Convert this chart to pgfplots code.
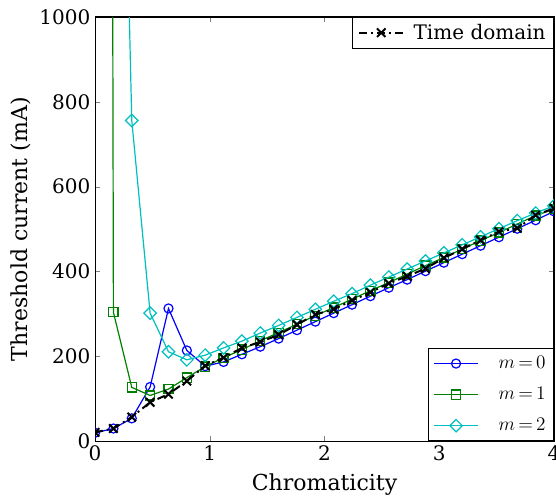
\documentclass[border=0pt]{standalone}
\usepackage{fontspec}
\setmainfont{DejaVu Serif}
\usepackage{pgfplots}
\pgfplotsset{compat=1.18}

\definecolor{mblue}{rgb}{0,0,1}
\definecolor{mgreen}{rgb}{0,0.5,0}
\definecolor{mcyan}{rgb}{0,0.75,0.75}

\pgfplotsset{
  base/.style={
    scale only axis, width=344pt, height=318pt,
    xmin=0, xmax=4, ymin=0, ymax=1000,
    clip marker paths=true,
  },
  legbox/.style={legend style={draw=black, line width=0.6pt, fill=white,
    font=\fontsize{15}{17}\selectfont,
    inner xsep=4pt, inner ysep=4pt, row sep=8.5pt},
    legend cell align=left},
  longleg/.style={legend image code/.code={%
    \draw[mark repeat=2,mark phase=2] plot coordinates {(0cm,0cm) (0.58cm,0cm) (1.16cm,0cm)};}},
}

\begin{document}
\begin{tikzpicture}
\begin{axis}[base, legbox, longleg, name=ax,
  xtick={0,1,2,3,4}, ytick={0,200,400,600,800,1000},
  xticklabel={\pgfmathprintnumber[assume math mode=true,1000 sep={}]{\tick}},
  yticklabel={\pgfmathprintnumber[assume math mode=true,1000 sep={}]{\tick}},
  tick label style={font=\fontsize{15}{17}\selectfont},
  label style={font=\fontsize{16.5}{18}\selectfont},
  tick align=inside, major tick length=4pt,
  axis line style={line width=0.8pt},
  xlabel={Chromaticity}, ylabel={Threshold current (mA)},
  xlabel style={at={(axis description cs:0.5,-0.1156)}, anchor=base},
  ylabel style={at={(axis description cs:-0.161,0.5)}, anchor=center},
  legend style={at={(1,0)}, anchor=south east,
    /tikz/every odd column/.append style={column sep=13pt}},
  every axis plot/.append style={line width=0.9pt},
  ]
\addplot[color=mblue, mark=o, mark size=3.4pt] coordinates {
(0,20) (0.16,30) (0.32,54) (0.48,128) (0.64,313) (0.8,214) (0.96,177) (1.12,187)
(1.28,205) (1.44,223) (1.6,242) (1.76,262) (1.92,282) (2.08,302) (2.24,322) (2.4,342)
(2.56,362) (2.72,381) (2.88,401) (3.04,421) (3.2,441) (3.36,461) (3.52,481) (3.68,501)
(3.84,521) (4.0,542)};
\addlegendentry{$m\,{=}\,0$}
\addplot[color=mgreen, mark=square, mark size=3.4pt] coordinates {
(0,20000) (0.16,304) (0.32,127) (0.48,108) (0.64,123) (0.8,150) (0.96,176) (1.12,197)
(1.28,216) (1.44,237) (1.6,256) (1.76,276) (1.92,296) (2.08,315) (2.24,335) (2.4,355)
(2.56,374) (2.72,394) (2.88,414) (3.04,433) (3.2,453) (3.36,473) (3.52,492) (3.68,512)
(3.84,532) (4.0,547)};
\addlegendentry{$m\,{=}\,1$}
\addplot[color=mcyan, mark=square, mark size=3.3pt, mark options={rotate=45}] coordinates {
(0,15000) (0.16,2600) (0.32,756) (0.48,302) (0.64,211) (0.8,192) (0.96,203) (1.12,220)
(1.28,236) (1.44,255) (1.6,273) (1.76,292) (1.92,311) (2.08,330) (2.24,348) (2.4,368)
(2.56,387) (2.72,406) (2.88,425) (3.04,444) (3.2,463) (3.36,482) (3.52,501) (3.68,520)
(3.84,538) (4.0,555)};
\addlegendentry{$m\,{=}\,2$}
\end{axis}
\begin{axis}[base, hide axis, legbox, longleg,
  legend style={at={(1,1)}, anchor=north east, inner ysep=3pt,
    /tikz/every odd column/.append style={column sep=5pt}}]
\addplot[black, line width=1.5pt, dash pattern=on 6pt off 3pt on 1.5pt off 3pt,
  mark=x, mark size=4.5pt, mark options={solid}] coordinates {
(0,21) (0.16,30) (0.32,57) (0.48,92) (0.64,111) (0.8,142) (0.96,178) (1.12,197)
(1.28,220) (1.44,234) (1.6,251) (1.76,275) (1.92,299) (2.08,311) (2.24,332) (2.4,351)
(2.56,372) (2.72,389) (2.88,407) (3.04,432) (3.2,453) (3.36,474) (3.52,494) (3.68,502)
(3.84,533) (4.0,549)};
\addlegendentry{Time domain}
\end{axis}
\pgfresetboundingbox
\path[use as bounding box] ([shift={(-71.25pt,-41.25pt)}]ax.south west)
  rectangle ([shift={(1.5pt,12.75pt)}]ax.north east);
\end{tikzpicture}
\end{document}
